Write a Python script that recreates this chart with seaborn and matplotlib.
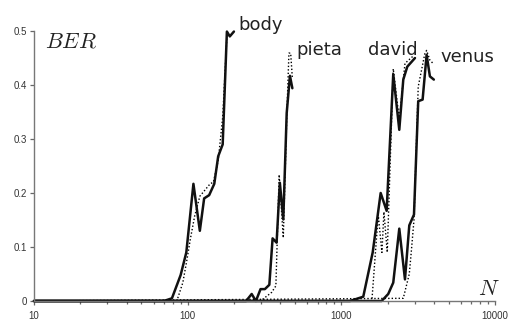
import matplotlib
matplotlib.use("Agg")
import matplotlib.pyplot as plt
import matplotlib.ticker as mticker
import seaborn as sns
import numpy as np
import pandas as pd

# ---- data ----
body_n = [10, 70, 79, 90, 98, 109, 120, 128, 138, 149, 158, 169, 180, 188, 200]
body_solid = [0, 0, 0.005, 0.048, 0.09, 0.217, 0.13, 0.19, 0.196, 0.217, 0.268, 0.29, 0.499, 0.49, 0.499]
body_dot_n = [10, 85, 93, 99, 104, 111, 120, 140, 147, 158, 169, 180]
body_dot = [0, 0, 0.034, 0.077, 0.114, 0.157, 0.194, 0.217, 0.22, 0.26, 0.34, 0.49]

pieta_n = [10, 240, 261, 278, 298, 318, 340, 357, 379, 398, 419, 441, 463, 480]
pieta_solid = [0, 0, 0.013, 0.0, 0.022, 0.022, 0.03, 0.116, 0.108, 0.219, 0.151, 0.348, 0.417, 0.394]
pieta_dot_n = [10, 298, 352, 375, 394, 419, 441, 456, 468, 480]
pieta_dot = [0, 0, 0.016, 0.028, 0.234, 0.117, 0.336, 0.459, 0.459, 0.413]

david_n = [10, 1138, 1389, 1600, 1803, 1972, 2177, 2383, 2530, 2687, 2868, 3015]
david_solid = [0, 0, 0.008, 0.09, 0.2, 0.167, 0.42, 0.317, 0.41, 0.434, 0.443, 0.45]
david_dot_n = [10, 1580, 1738, 1837, 1893, 1990, 2177, 2383, 2595, 2970]
david_dot = [0, 0, 0.16, 0.09, 0.165, 0.09, 0.43, 0.336, 0.44, 0.455]

venus_n = [10, 1829, 2019, 2177, 2383, 2595, 2768, 2970, 3165, 3380, 3589, 3770, 4000]
venus_solid = [0, 0, 0.013, 0.034, 0.134, 0.04, 0.14, 0.16, 0.37, 0.373, 0.456, 0.416, 0.41]
venus_dot_n = [10, 2530, 2768, 2850, 2970, 3165, 3500, 3589, 3770, 3950]
venus_dot = [0, 0.005, 0.05, 0.09, 0.15, 0.397, 0.459, 0.464, 0.446, 0.44]

labels = ["body", "pieta", "david", "venus"]
y_ticks = [0, 0.1, 0.2, 0.3, 0.4, 0.5]
y_tick_labels = ["0", "0.1", "0.2", "0.3", "0.4", "0.5"]
x_ticks = [10, 100, 1000, 10000]
x_tick_labels = ["10", "100", "1000", "10000"]

# ---- figure ----
sns.set_style("ticks")
plt.rcParams["font.family"] = ["DejaVu Sans"]
plt.rcParams["mathtext.fontset"] = "cm"
W, H = 510, 322
fig = plt.figure(figsize=(W / 100, H / 100), dpi=100)
ax = fig.add_axes([34 / W, 1 - 301 / H, (495 - 34) / W, (301 - 31) / H])

series = [
    (body_n, body_solid, body_dot_n, body_dot),
    (pieta_n, pieta_solid, pieta_dot_n, pieta_dot),
    (david_n, david_solid, david_dot_n, david_dot),
    (venus_n, venus_solid, venus_dot_n, venus_dot),
]
for sn, sv, dn, dv in series:
    sns.lineplot(x=dn, y=dv, ax=ax, color="black", lw=1.0, linestyle=(0, (1, 1.5)),
                 estimator=None, sort=False, clip_on=False)
    sns.lineplot(x=sn, y=sv, ax=ax, color="#111111", lw=1.8, estimator=None,
                 sort=False, clip_on=False)

ax.set_xscale("log")
ax.set_xlim(10, 10000)
ax.set_ylim(0, 0.5)
ax.set_xticks(x_ticks)
ax.set_xticklabels(x_tick_labels)
ax.xaxis.set_minor_locator(mticker.LogLocator(base=10, subs=np.arange(2, 10)))
ax.xaxis.set_minor_formatter(mticker.NullFormatter())
ax.set_yticks(y_ticks)
ax.set_yticklabels(y_tick_labels)
ax.set_xlabel("")
ax.set_ylabel("")
for s in ["top", "right"]:
    ax.spines[s].set_visible(False)
for s in ["left", "bottom"]:
    ax.spines[s].set_color("#777777")
    ax.spines[s].set_linewidth(1.0)
ax.tick_params(axis="both", which="both", direction="out", bottom=True, left=True,
               top=False, right=False, color="#666666", width=0.9)
ax.tick_params(axis="both", which="major", length=2.8, labelsize=7,
               labelcolor="#333333", pad=2)
ax.tick_params(axis="x", which="minor", length=2.2)
ax.tick_params(axis="x", which="major", pad=4.5)
for t in ax.get_xticklabels() + ax.get_yticklabels():
    t.set_family("Liberation Sans")

# series labels
def ftext(x, y, s, **kw):
    fig.text(x / W, 1 - y / H, s, **kw)

ftext(238, 30, labels[0], fontsize=13, color="#222222", va="baseline", ha="left")
ftext(296, 55, labels[1], fontsize=13, color="#222222", va="baseline", ha="left")
ftext(368, 55, labels[2], fontsize=13, color="#222222", va="baseline", ha="left")
ftext(440, 61.5, labels[3], fontsize=13, color="#222222", va="baseline", ha="left")

ftext(45, 47.5, r"$BER$", fontsize=16, color="#222222", va="baseline", ha="left")
ftext(478, 295, r"$N$", fontsize=16, color="#222222", va="baseline", ha="left")

fig.savefig("out.png", dpi=100)
